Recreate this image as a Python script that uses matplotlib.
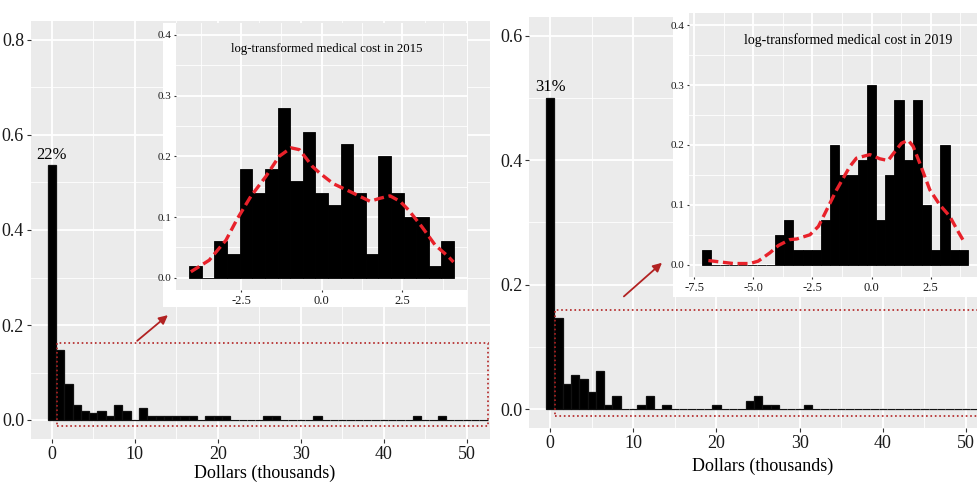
import matplotlib
matplotlib.use("Agg")
import matplotlib.pyplot as plt
from matplotlib.patches import Rectangle
from matplotlib.ticker import MultipleLocator

plt.rcParams['font.family'] = ['Liberation Serif', 'DejaVu Serif']

# share of people per 1k-dollar bin (bins centred on 0, 1, 2, ...)
cost_2015 = [0.536, 0.148, 0.075, 0.032, 0.020, 0.014, 0.020, 0.0085, 0.032, 0.020,
             0.0, 0.026, 0.0085, 0.0085, 0.0085, 0.0085, 0.0085, 0.0085, 0.0, 0.0085,
             0.0085, 0.0085, 0.0, 0.0, 0.0, 0.0, 0.0085, 0.0085, 0.0, 0.0,
             0.0, 0.0, 0.0085, 0.0, 0.0, 0.0, 0.0, 0.0, 0.0, 0.0,
             0.0, 0.0, 0.0, 0.0, 0.0085, 0.0, 0.0, 0.0085, 0.0, 0.0,
             0.0, 0.0, 0.0]
cost_2019 = [0.500, 0.147, 0.041, 0.054, 0.048, 0.028, 0.061, 0.0064, 0.021, 0.0,
             0.0, 0.0064, 0.021, 0.0, 0.0064, 0.0, 0.0, 0.0, 0.0, 0.0,
             0.0064, 0.0, 0.0, 0.0, 0.013, 0.021, 0.0064, 0.0064, 0.0, 0.0,
             0.0, 0.0064, 0.0, 0.0, 0.0, 0.0, 0.0, 0.0, 0.0, 0.0,
             0.0, 0.0, 0.0, 0.0, 0.0, 0.0, 0.0, 0.0, 0.0, 0.0,
             0.0, 0.0, 0.0]
zero_share = ['22%', '31%']

# log-cost histograms (density) and smoothed density
log_start_2015, log_width_2015 = -4.11, 0.3914
log_hist_2015 = [0.02, 0.0, 0.06, 0.04, 0.18, 0.14, 0.18, 0.28, 0.16, 0.24, 0.14,
                 0.12, 0.22, 0.14, 0.04, 0.20, 0.14, 0.10, 0.10, 0.02, 0.06]
dens_x_2015 = [-4.06, -3.49, -2.97, -2.61, -2.20, -1.73, -1.32, -0.95, -0.69, -0.28, -0.05,
               0.36, 0.88, 1.50, 1.81, 2.12, 2.43, 2.69, 3.11, 3.52, 3.93, 4.09]
dens_y_2015 = [0.010, 0.029, 0.062, 0.098, 0.134, 0.167, 0.200, 0.214, 0.211, 0.183, 0.172,
               0.155, 0.142, 0.126, 0.131, 0.135, 0.126, 0.112, 0.084, 0.054, 0.035, 0.026]

log_start_2019, log_width_2019 = -7.20, 0.389
log_hist_2019 = [0.025, 0.0, 0.0, 0.0, 0.0, 0.0, 0.0, 0.0, 0.05, 0.075, 0.025, 0.025,
                 0.025, 0.075, 0.20, 0.15, 0.15, 0.175, 0.30, 0.075, 0.15, 0.275, 0.175,
                 0.275, 0.10, 0.025, 0.20, 0.025, 0.025]
dens_x_2019 = [-6.91, -5.85, -5.15, -4.80, -4.30, -3.95, -3.46, -3.17, -2.61, -2.25, -1.97,
               -1.48, -0.92, -0.64, -0.07, 0.35, 0.70, 0.99, 1.27, 1.55, 1.76, 2.04,
               2.47, 2.89, 3.31, 3.66, 3.88]
dens_y_2019 = [0.007, 0.002, 0.002, 0.006, 0.020, 0.032, 0.042, 0.043, 0.050, 0.064, 0.086,
               0.125, 0.164, 0.178, 0.184, 0.177, 0.174, 0.189, 0.203, 0.208, 0.198, 0.170,
               0.125, 0.100, 0.081, 0.056, 0.041]

W, H = 978, 483
PANEL = '#EBEBEB'
BOX = '#B22222'
DASH = '#E8212A'


def fig_rect(x0, y0, x1, y1):
    # pixel box (top-left origin) -> figure fraction rect
    return [x0 / W, 1 - y1 / H, (x1 - x0) / W, (y1 - y0) / H]


def style_panel(ax, xmaj, xmin, ymaj, ymin, size, length):
    ax.set_facecolor(PANEL)
    for s in ax.spines.values():
        s.set_visible(False)
    ax.xaxis.set_major_locator(MultipleLocator(xmaj))
    ax.xaxis.set_minor_locator(MultipleLocator(xmin))
    ax.yaxis.set_major_locator(MultipleLocator(ymaj))
    ax.yaxis.set_minor_locator(MultipleLocator(ymin))
    ax.grid(which='major', color='white', lw=1.3)
    ax.grid(which='minor', color='white', lw=0.6)
    ax.set_axisbelow(True)
    ax.tick_params(which='major', length=length, width=0.8, color='#333333',
                   labelsize=size, labelcolor='#1a1a1a', pad=2)
    ax.tick_params(which='minor', length=0)


def main_hist(ax, heights, label):
    bins = list(range(len(heights)))
    ax.bar(bins, heights, width=1.0, color='black', edgecolor='#111111', linewidth=0.9)
    ax.annotate(label, (bins[0], heights[0]), xytext=(0, 2), textcoords='offset points',
                ha='center', va='bottom', fontsize=12)


def inset_hist(ax, start, width, heights, dx, dy, title, title_size):
    lefts = [start + i * width for i in range(len(heights))]
    ax.bar(lefts, heights, width=width, align='edge', color='black',
           edgecolor='black', linewidth=0.6)
    ax.plot(dx, dy, color=DASH, lw=2.4, linestyle=(0, (3, 1.4)), solid_capstyle='butt')
    ax.text(0.52, 0.90, title, transform=ax.transAxes, ha='center', va='center',
            fontsize=title_size)


fig = plt.figure(figsize=(W / 100, H / 100), dpi=100)

# ---- 2015 ----
ax1 = fig.add_axes(fig_rect(31, 21, 490, 439))
style_panel(ax1, 10, 5, 0.2, 0.1, 13, 3)
main_hist(ax1, cost_2015, zero_share[0])
ax1.set_xlim(-2.5, 52.8)
ax1.set_ylim(-0.04, 0.84)
ax1.yaxis.set_major_formatter(lambda v, p: f'{v:.1f}')
ax1.add_patch(Rectangle((0.68, -0.0126), 52.5 - 0.68, 0.163 + 0.0126, fill=False,
                        edgecolor=BOX, lw=1.2, linestyle=':'))
ax1.annotate('', xy=(14.25, 0.2245), xytext=(10.04, 0.163),
             arrowprops=dict(arrowstyle='-|>', color=BOX, lw=1.3, mutation_scale=13))
ax1.set_xlabel('Dollars (thousands)', fontsize=13)
ax1.xaxis.label.set_va('center')
ax1.xaxis.set_label_coords(0.51, -0.081)
ax1.add_patch(Rectangle((162.7 / W, 1 - 307 / H), (466.7 - 162.7) / W, (307 - 22.7) / H,
                        transform=fig.transFigure, facecolor='white', edgecolor='none',
                        clip_on=False, zorder=5))

in1 = fig.add_axes(fig_rect(176, 22.7, 466.7, 290))
style_panel(in1, 2.5, 1.25, 0.1, 0.05, 8, 1.5)
in1.tick_params(axis='x', labelsize=9)
inset_hist(in1, log_start_2015, log_width_2015, log_hist_2015, dens_x_2015, dens_y_2015,
           'log-transformed medical cost in 2015', 9.2)
in1.set_xlim(-4.52, 4.50)
in1.set_ylim(-0.02, 0.42)
in1.yaxis.set_major_formatter(lambda v, p: f'{v:.1f}')
in1.xaxis.set_major_formatter(lambda v, p: f'{v:.1f}')

# ---- 2019 ----
ax2 = fig.add_axes(fig_rect(529.3, 17, 978, 427.7))
style_panel(ax2, 10, 5, 0.2, 0.1, 13, 3)
main_hist(ax2, cost_2019, zero_share[1])
ax2.set_xlim(-2.5, 51.44)
ax2.set_ylim(-0.03, 0.63)
ax2.yaxis.set_major_formatter(lambda v, p: f'{v:.1f}')
ax2.add_patch(Rectangle((0.6, -0.0119), 53, 0.159 + 0.0119, fill=False,
                        edgecolor=BOX, lw=1.2, linestyle=':'))
ax2.annotate('', xy=(13.7, 0.238), xytext=(8.62, 0.178),
             arrowprops=dict(arrowstyle='-|>', color=BOX, lw=1.3, mutation_scale=13))
ax2.set_xlabel('Dollars (thousands)', fontsize=13)
ax2.xaxis.label.set_va('center')
ax2.xaxis.set_label_coords(0.52, -0.095)
ax2.add_patch(Rectangle((673.3 / W, 1 - 296.7 / H), (1000 - 673.3) / W, (296.7 - 13.3) / H,
                        transform=fig.transFigure, facecolor='white', edgecolor='none',
                        clip_on=False, zorder=5))

in2 = fig.add_axes(fig_rect(689, 13.3, 988.4, 276.7))
style_panel(in2, 2.5, 1.25, 0.1, 0.05, 8, 1.5)
in2.tick_params(axis='x', labelsize=9)
inset_hist(in2, log_start_2019, log_width_2019, log_hist_2019, dens_x_2019, dens_y_2019,
           'log-transformed medical cost in 2019', 10)
in2.set_xlim(-7.73, 4.95)
in2.set_ylim(-0.02, 0.42)
in2.yaxis.set_major_formatter(lambda v, p: f'{v:.1f}')
in2.xaxis.set_major_formatter(lambda v, p: f'{v:.1f}')
in2.texts[0].set_x((848.3 - 689) / (988.4 - 689))

fig.savefig('out.png', dpi=100)
